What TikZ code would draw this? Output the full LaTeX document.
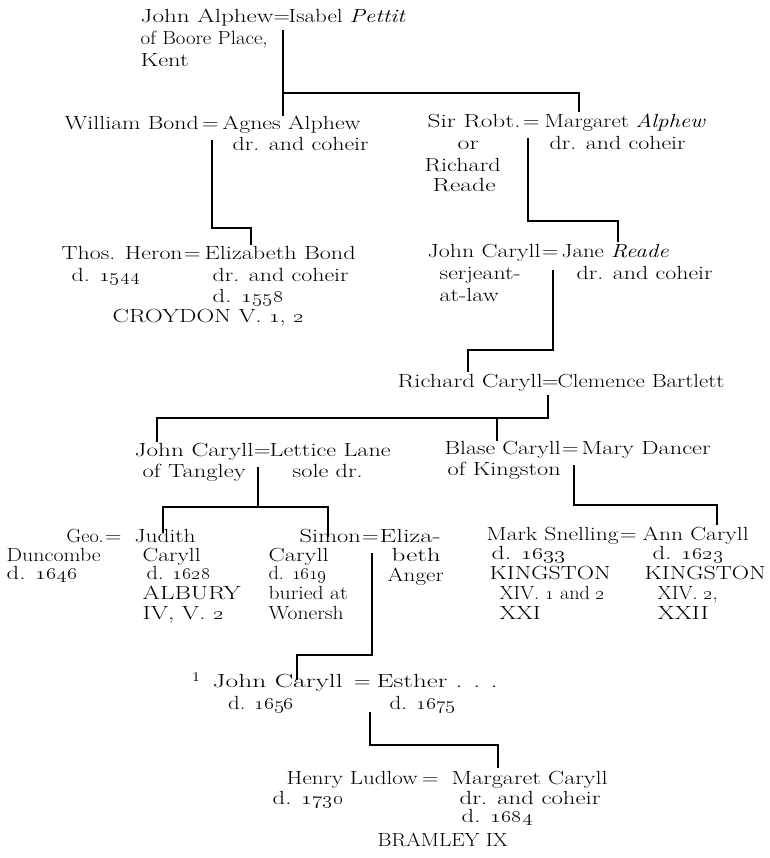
\documentclass[tikz,border=0pt]{standalone}
\usepackage{graphicx}
\newlength\twd
\newcommand\SX[1]{\scalebox{1.2}[1]{#1}}
\newcommand\TX[2]{\settowidth{\twd}{#2}\pgfmathsetmacro\fac{min(max(#1/\twd,1.06),1.45)}\scalebox{\fac}[1]{#2}}
\newcommand\on[1]{\oldstylenums{#1}}
\begin{document}
\begin{tikzpicture}[x=1pt,y=-1pt,
  t/.style={anchor=west,inner sep=0pt,text height=13pt,text depth=4pt,
    font=\fontsize{19}{21}\selectfont},
  ln/.style={line width=2.6pt,line join=miter}]
\useasboundingbox[fill=white] (0,0) rectangle (769,858);

% row 1
\node[t] (alphew) at (140.5,18) {\TX{133}{John Alphew}};
\node[t] (e1) at (273.5,18) {\SX{=}};
\node[t] (pettit) at (288.5,18) {\TX{117}{Isabel \textit{Pettit}}};
\node[t] (alphewa) at (140.5,40) {\TX{127}{of Boore Place,}};
\node[t] (alphewb) at (140.5,62) {\TX{48}{Kent}};

% row 2
\node[t] (wbond) at (64.5,125) {\TX{134}{William Bond}};
\node[t] (e2) at (202,125) {\SX{=}};
\node[t] (agnes) at (222.5,125) {\TX{138}{Agnes Alphew}};
\node[t] (agnesa) at (232.5,146) {\TX{136}{dr. and coheir}};
\node[t] (robt) at (427.5,123) {\TX{93}{Sir Robt.}};
\node[t] (e3) at (523,123) {\SX{=}};
\node[t] (margaret) at (544.5,123) {\TX{161}{Margaret \textit{Alphew}}};
\node[t] (robta) at (457.5,145) {\TX{21}{or}};
\node[t] (margareta) at (549.5,145) {\TX{136}{dr. and coheir}};
\node[t] (robtb) at (424.5,167) {\TX{76}{Richard}};
\node[t] (robtc) at (432.5,187) {\TX{63}{Reade}};

% row 3
\node[t] (heron) at (61.5,255) {\TX{121}{Thos. Heron}};
\node[t] (e4) at (184,255) {\SX{=}};
\node[t] (ebond) at (204.5,255) {\TX{151}{Elizabeth Bond}};
\node[t] (herona) at (71.5,277) {\TX{69}{d. \on{1544}}};
\node[t] (ebonda) at (212.5,277) {\TX{136}{dr. and coheir}};
\node[t] (ebondb) at (212.5,298) {\TX{71}{d. \on{1558}}};
\node[t] (croydon) at (112.5,318) {\TX{191}{CROYDON V. \on{1}, \on{2}}};
\node[t] (jcaryll) at (427.5,253) {\TX{113}{John Caryll}};
\node[t] (e5) at (542,253) {\SX{=}};
\node[t] (jane) at (561.5,253) {\TX{107}{Jane \textit{Reade}}};
\node[t] (jcarylla) at (439.5,275) {\TX{81}{serjeant-}};
\node[t] (jcaryllb) at (439.5,297) {\TX{59}{at-law}};
\node[t] (janea) at (576.5,275) {\TX{136}{dr. and coheir}};

% row 4
\node[t] (richard) at (397.5,383) {\TX{145}{Richard Caryll}};
\node[t] (e6) at (542,383) {\SX{=}};
\node[t] (clemence) at (557.5,383) {\SX{Clemence Bartlett}};

% row 5
\node[t] (tangley) at (134.5,452) {\TX{119}{John Caryll}};
\node[t] (e7) at (254,452) {\SX{=}};
\node[t] (lettice) at (269.5,452) {\TX{121}{Lettice Lane}};
\node[t] (tangleya) at (142.5,473) {\TX{103}{of Tangley}};
\node[t] (lettricea) at (292.5,473) {\TX{70}{sole dr.}};
\node[t] (blase) at (444.5,450) {\TX{116}{Blase Caryll}};
\node[t] (e8) at (562,450) {\SX{=}};
\node[t] (mary) at (581.5,450) {\TX{129}{Mary Dancer}};
\node[t] (blasea) at (447.5,471) {\TX{113}{of Kingston}};

% row 6
\node[t] (geo) at (66.5,538) {\TX{37}{Geo.}};
\node[t] (e9) at (105,538) {\SX{=}};
\node[t] (geoa) at (6.5,557) {\TX{94}{Duncombe}};
\node[t] (geob) at (6.5,575) {\TX{71}{d. \on{1646}}};
\node[t] (judith) at (134.5,538) {\TX{61}{Judith}};
\node[t] (juditha) at (142.5,557) {\TX{58}{Caryll}};
\node[t] (judithb) at (146.5,575) {\TX{64}{d. \on{1628}}};
\node[t] (judithc) at (142.5,595) {\TX{98}{ALBURY}};
\node[t] (judithd) at (142.5,615) {\TX{81}{IV, V. \on{2}}};
\node[t] (simon) at (299.5,538) {\TX{61}{Simon}};
\node[t] (e10) at (362,538) {\SX{=}};
\node[t] (eliza) at (379.5,538) {\TX{61}{Eliza-}};
\node[t] (simona) at (268.5,557) {\TX{60}{Caryll}};
\node[t] (simonb) at (268.5,575) {\TX{54}{d. \on{1619}}};
\node[t] (simonc) at (268.5,595) {\TX{79}{buried at}};
\node[t] (simond) at (268.5,615) {\TX{75}{Wonersh}};
\node[t] (elizaa) at (391.5,557) {\TX{49}{beth}};
\node[t] (elizab) at (387.5,577) {\TX{56}{Anger}};
\node[t] (mark) at (486.5,536) {\TX{132}{Mark Snelling}};
\node[t] (e11) at (620,536) {\SX{=}};
\node[t] (ann) at (642.5,536) {\TX{106}{Ann Caryll}};
\node[t] (marka) at (491.5,555) {\TX{74}{d. \on{1633}}};
\node[t] (markb) at (489.5,575) {\TX{121}{KINGSTON}};
\node[t] (markc) at (499.5,595) {\TX{103}{XIV. \on{1} and \on{2}}};
\node[t] (markd) at (499.5,615) {\TX{41}{XXI}};
\node[t] (anna) at (652.5,555) {\TX{71}{d. \on{1623}}};
\node[t] (annb) at (644.5,575) {\TX{121}{KINGSTON}};
\node[t] (annc) at (657.5,595) {\TX{60}{XIV. \on{2},}};
\node[t] (annd) at (657.5,615) {\TX{51}{XXII}};

% row 7
\node[t] (note) at (192,683) {\SX{\textsuperscript{1}}};
\node[t] (john) at (212.5,683) {\TX{138}{John Caryll}};
\node[t] (e12) at (354,683) {\SX{=}};
\node[t] (esther) at (376.5,683) {\TX{121}{Esther . . .}};
\node[t] (johna) at (228,705) {\SX{d. \on{1656}}};
\node[t] (esthera) at (389.5,705) {\TX{66}{d. \on{1675}}};

% row 8
\node[t] (ludlow) at (286.5,780) {\TX{131}{Henry Ludlow}};
\node[t] (e13) at (422,780) {\SX{=}};
\node[t] (mcaryll) at (451.5,780) {\TX{156}{Margaret Caryll}};
\node[t] (ludlowa) at (272.5,800) {\TX{71}{d. \on{1730}}};
\node[t] (mcarylla) at (459.5,800) {\TX{141}{dr. and coheir}};
\node[t] (mcaryllb) at (461.5,818) {\TX{71}{d. \on{1684}}};
\node[t] (bramley) at (377.5,842) {\TX{130}{BRAMLEY IX}};

% connector points
\coordinate (c1a) at (283,30);  \coordinate (c1b) at (283,116);
\coordinate (c1c) at (283,93);  \coordinate (c1d) at (579,112);
\coordinate (c2a) at (212,140); \coordinate (c2b) at (251,245); \coordinate (c2y) at (0,228);
\coordinate (c3a) at (528,138); \coordinate (c3b) at (618,242); \coordinate (c3y) at (0,221);
\coordinate (c4a) at (553,270); \coordinate (c4b) at (468,372); \coordinate (c4y) at (0,350);
\coordinate (c5a) at (548,395); \coordinate (c5b) at (157,442); \coordinate (c5y) at (0,418);
\coordinate (c5c) at (497,418); \coordinate (c5d) at (497,441);
\coordinate (c6a) at (258,467); \coordinate (c6b) at (258,507);
\coordinate (c6c) at (163,533); \coordinate (c6d) at (328,537);
\coordinate (c7a) at (574,465); \coordinate (c7b) at (717,525); \coordinate (c7y) at (0,505);
\coordinate (c8a) at (372,553); \coordinate (c8b) at (297,680); \coordinate (c8y) at (0,655);
\coordinate (c9a) at (370,712); \coordinate (c9b) at (498,768); \coordinate (c9y) at (0,745);

\draw[ln] (c1a) -- (c1b);
\draw[ln] (c1c) -| (c1d);
\draw[ln] (c2a) -- (c2a |- c2y) -- (c2b |- c2y) -- (c2b);
\draw[ln] (c3a) -- (c3a |- c3y) -- (c3b |- c3y) -- (c3b);
\draw[ln] (c4a) -- (c4a |- c4y) -- (c4b |- c4y) -- (c4b);
\draw[ln] (c5a) -- (c5a |- c5y) -- (c5b |- c5y) -- (c5b);
\draw[ln] (c5c) -- (c5d);
\draw[ln] (c6a) -- (c6b);
\draw[ln] (c6c) -- (c6c |- c6b) -- (c6d |- c6b) -- (c6d);
\draw[ln] (c7a) -- (c7a |- c7y) -- (c7b |- c7y) -- (c7b);
\draw[ln] (c8a) -- (c8a |- c8y) -- (c8b |- c8y) -- (c8b);
\draw[ln] (c9a) -- (c9a |- c9y) -- (c9b |- c9y) -- (c9b);
\end{tikzpicture}
\end{document}
